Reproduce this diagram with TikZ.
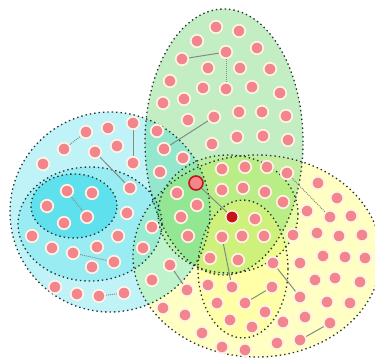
\documentclass[tikz,border=0pt]{standalone}
\begin{document}
\definecolor{dotpink}{RGB}{243,134,140}
\definecolor{dotring}{RGB}{255,242,228}
\definecolor{bluef}{RGB}{20,212,228}
\definecolor{greenf}{RGB}{105,212,105}
\definecolor{yellowf}{RGB}{255,255,100}
\definecolor{limef}{RGB}{150,235,40}
\definecolor{edgecol}{RGB}{40,50,50}
\definecolor{linkcol}{RGB}{130,140,135}
\definecolor{hired}{RGB}{200,20,25}
\pgfdeclarelayer{bg}
\pgfdeclarelayer{mid}
\pgfsetlayers{bg,mid,main}
\begin{tikzpicture}[x=1pt,y=-1pt,
  region/.style={draw=edgecol,line width=1.3pt,dash pattern=on 1.4pt off 3pt},
  dot/.style={circle,inner sep=0pt,minimum size=12.5pt,fill=dotpink,draw=dotring,line width=1.7pt},
  seldot/.style={circle,inner sep=0pt,minimum size=14pt,fill=dotpink,draw=hired,line width=1.6pt},
  centdot/.style={circle,inner sep=0pt,minimum size=12.5pt,fill=hired,draw=dotring,line width=1.4pt},
  link/.style={draw=linkcol,line width=1pt},
  dlink/.style={draw=linkcol,line width=1pt,dash pattern=on 1pt off 1pt}]
\useasboundingbox (0,0) rectangle (375,360);
\begin{pgfonlayer}{bg}
% fills
\fill[yellowf,fill opacity=.38] (257,256) ellipse [x radius=124pt, y radius=101pt];
\fill[greenf,fill opacity=.4] (224,142) ellipse [x radius=79pt, y radius=133pt];
\fill[bluef,fill opacity=.27] (110,212) ellipse [x radius=100pt, y radius=100pt];
\fill[bluef,fill opacity=.22] (90,224) ellipse [x radius=72pt, y radius=57pt];
\fill[bluef,fill opacity=.45] (74,206) ellipse [x radius=43pt, y radius=32pt];
\fill[limef,fill opacity=.22] (228,214) ellipse [x radius=70pt, y radius=59pt];
\fill[yellowf,fill opacity=.3] (243,269) ellipse [x radius=45pt, y radius=69pt];
% boundaries
\draw[region] (257,256) ellipse [x radius=124pt, y radius=101pt];
\draw[region] (224,142) ellipse [x radius=79pt, y radius=133pt];
\draw[region] (110,212) ellipse [x radius=100pt, y radius=100pt];
\draw[region] (90,224) ellipse [x radius=72pt, y radius=57pt];
\draw[region] (74,206) ellipse [x radius=43pt, y radius=32pt];
\draw[region] (228,214) ellipse [x radius=70pt, y radius=59pt];
\draw[region] (243,269) ellipse [x radius=45pt, y radius=69pt];
\end{pgfonlayer}
% dots with links
\node[dot] (a1) at (182,59) {};
\node[dot] (a2) at (226,52) {};
\node[dot] (a3) at (226,89) {};
\node[dot] (b1) at (164,149) {};
\node[dot] (b2) at (214,117) {};
\node[dot] (c1) at (133,123) {};
\node[dot] (c2) at (133,163) {};
\node[dot] (c3) at (95,152) {};
\node[dot] (c4) at (130,188) {};
\node[dot] (e1) at (64,149) {};
\node[dot] (e2) at (86,132) {};
\node[dot] (e3) at (67,191) {};
\node[dot] (e4) at (87,217) {};
\node[dot] (e5) at (73,253) {};
\node[dot] (e6) at (114,262) {};
\node[dot] (e7) at (99,296) {};
\node[dot] (e8) at (124,293) {};
\node[dot] (f1) at (222,237) {};
\node[dot] (f2) at (232,287) {};
\node[dot] (f3) at (245,303) {};
\node[dot] (f4) at (272,287) {};
\node[dot] (f5) at (273,263) {};
\node[dot] (f6) at (300,297) {};
\node[dot] (f7) at (300,340) {};
\node[dot] (f8) at (330,323) {};
\node[dot] (f9) at (170,265) {};
\node[dot] (f10) at (187,290) {};
\node[dot] (h1) at (287,173) {};
\node[dot] (h2) at (330,217) {};
\node[seldot] (sel) at (196,183) {};
\node[centdot] (cen) at (232,217) {};
% other dots
\foreach \p [count=\i] in {(216,27),(239,31),(197,41),(257,48),(208,68),(240,68),(270,69),
  (170,81),(203,88),(252,87),(280,93),(163,103),(184,99),(239,112),(262,112),(286,116),(188,120),
  (157,131),(183,158),(212,144),(237,137),(263,136),(288,140),
  (160,172),(222,169),(245,167),(267,167),
  (177,193),(222,190),(243,188),(265,192),(283,202),
  (197,205),(181,217),(255,219),(152,227),(188,236),(242,236),(264,236),(143,248),
  (108,128),(117,146),(43,164),(92,193),(47,206),(64,223),(127,213),(32,236),(118,236),
  (52,248),(97,247),(92,267),(55,287),(77,294),(152,280),
  (318,183),(337,198),(307,211),(351,216),(293,235),(317,233),(339,236),(362,235),
  (210,258),(238,260),(300,263),(323,256),(345,257),(365,258),
  (208,285),(315,280),(335,278),(360,282),
  (163,308),(185,315),(217,303),(265,312),(283,322),(305,317),(327,302),(350,303),
  (202,333),(230,320),(252,327),(222,347),(245,350),(277,343)}
  \node[dot] (o\i) at \p {};
% links
\begin{pgfonlayer}{mid}
\path[link] (a1) -- (a2);
\path[dlink] (a2) -- (a3);
\path[link] (b1) -- (b2);
\path[link] (c1) -- (c2);
\path[link] (c3) -- (c4);
\path[dlink] (e1) -- (e2);
\path[dlink] (e3) -- (e4);
\path[dlink] (e5) -- (e6);
\path[dlink] (e7) -- (e8);
\path[link] (sel) -- (cen);
\path[link] (f1) -- (f2);
\path[link] (f3) -- (f4);
\path[link] (f5) -- (f6);
\path[link] (f7) -- (f8);
\path[link] (f9) -- (f10);
\path[dlink] (h1) -- (h2);
\end{pgfonlayer}
\end{tikzpicture}
\end{document}
